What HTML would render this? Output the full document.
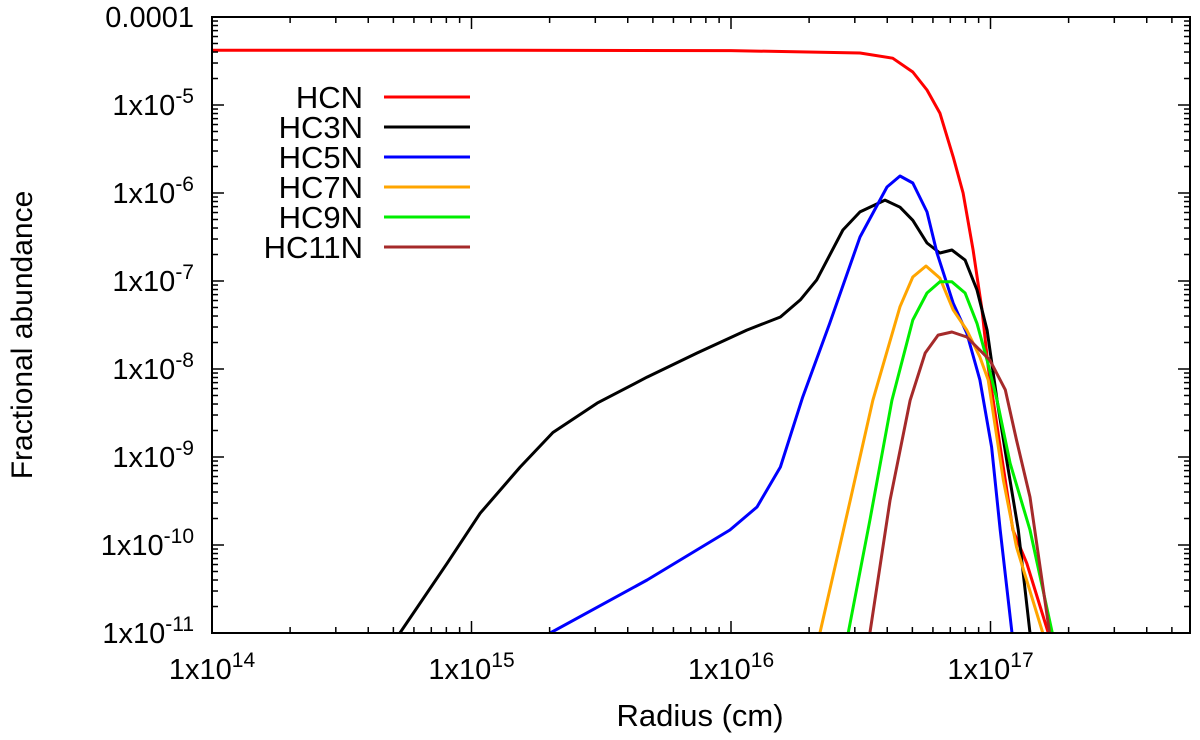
<!DOCTYPE html>
<html><head><meta charset="utf-8"><style>
body{margin:0;background:#fff;}
svg{display:block;font-family:"Liberation Sans",Arial,sans-serif;}
</style></head><body>
<svg id="chart" width="1200" height="740" viewBox="0 0 1200 740" xmlns="http://www.w3.org/2000/svg">
<defs><clipPath id="plotclip"><rect x="212" y="17" width="978" height="616"/></clipPath></defs>
<g id="marks" clip-path="url(#plotclip)"></g>
<g id="axes"></g>
<text x="700" y="726" font-size="31" text-anchor="middle">Radius (cm)</text>
<text transform="translate(32,335) rotate(-90)" font-size="30" text-anchor="middle">Fractional abundance</text>
<g id="legend"></g>
</svg>
<script>
const seriesNames = ["HCN","HC3N","HC5N","HC7N","HC9N","HC11N"];
const seriesColors = ["#ff0000","#000000","#0000ff","#ffa500","#00ee00","#a52a2a"];
const xTickExps = [14,15,16,17];
const yTickExps = [-4,-5,-6,-7,-8,-9,-10,-11];

const hcnX = [1e14,1e15,1e16,3.14e16,4.2e16,5.02e16,5.69e16,6.38e16,7.18e16,7.84e16,8.57e16,9.27e16,9.8e16,1.09e17,1.22e17,1.38e17,1.67e17];
const hcnY = [4.2e-5,4.2e-5,4.15e-5,3.9e-5,3.4e-5,2.37e-5,1.48e-5,8.1e-6,2.57e-6,1e-6,2.25e-7,4.7e-8,1.05e-8,1.3e-9,1.48e-10,6.2e-11,1e-11];

const hc3nX = [5.3e14,8.05e14,1.08e15,1.54e15,2.06e15,3.05e15,4.75e15,7.4e15,1.15e16,1.55e16,1.85e16,2.14e16,2.7e16,3.14e16,3.92e16,4.48e16,5.02e16,5.69e16,6.38e16,7.1e16,7.98e16,8.87e16,9.7e16,1.06e17,1.16e17,1.28e17,1.42e17];
const hc3nY = [1e-11,6.2e-11,2.3e-10,7.7e-10,1.9e-9,4.1e-9,8.1e-9,1.52e-8,2.77e-8,3.9e-8,6.1e-8,1.03e-7,3.8e-7,6.1e-7,8.3e-7,6.9e-7,4.9e-7,2.7e-7,2.08e-7,2.25e-7,1.73e-7,7.9e-8,2.77e-8,4.4e-9,8.5e-10,1.48e-10,1e-11];

const hc5nX = [2.01e15,4.75e15,9.9e15,1.26e16,1.55e16,1.89e16,2.4e16,3.14e16,3.99e16,4.48e16,5.02e16,5.69e16,6.22e16,7.18e16,8.1e16,9.1e16,1.01e17,1.09e17,1.21e17];
const hc5nY = [1e-11,4.0e-11,1.48e-10,2.7e-10,7.7e-10,4.8e-9,3.3e-8,3.16e-7,1.17e-6,1.56e-6,1.3e-6,6.1e-7,2.08e-7,5.6e-8,2.56e-8,7.5e-9,1.3e-9,1.48e-10,1e-11];

const hc7nX = [2.2e16,2.88e16,3.52e16,4.48e16,5.02e16,5.64e16,6.38e16,7.18e16,8.1e16,9.1e16,9.8e16,1.12e17,1.26e17,1.59e17];
const hc7nY = [1e-11,3.2e-10,4.4e-9,5.1e-8,1.11e-7,1.48e-7,1.08e-7,4.7e-8,2.77e-8,1.37e-8,7.5e-9,5.5e-10,9.5e-11,1e-11];

const hc9nX = [2.83e16,3.43e16,4.17e16,5.02e16,5.69e16,6.38e16,7.1e16,7.98e16,8.87e16,9.7e16,1.06e17,1.19e17,1.42e17,1.73e17];
const hc9nY = [1e-11,1.92e-10,4.4e-9,3.6e-8,7.3e-8,9.8e-8,9.8e-8,7.3e-8,3.3e-8,1.26e-8,4.4e-9,8.5e-10,1.48e-10,1e-11];

const hc11nX = [3.43e16,4.1e16,4.9e16,5.6e16,6.28e16,7.1e16,8.1e16,9.95e16,1.14e17,1.26e17,1.42e17,1.69e17];
const hc11nY = [1e-11,3.2e-10,4.4e-9,1.52e-8,2.43e-8,2.63e-8,2.31e-8,1.26e-8,5.8e-9,1.56e-9,3.5e-10,1e-11];

const NS = "http://www.w3.org/2000/svg";
const X0 = 212, X1 = 1190, Y0 = 17, Y1 = 633;
const DX = 259.5, DY = 88;
function xScale(v){ return X0 + (Math.log10(v) - 14) * DX; }
function yScale(v){ return Y0 + (-4 - Math.log10(v)) * DY; }
function mk(tag, attrs, parent){ const e = document.createElementNS(NS, tag); for (const k in attrs) e.setAttribute(k, attrs[k]); parent.appendChild(e); return e; }

const marks = document.getElementById("marks");
const allX = [hcnX,hc3nX,hc5nX,hc7nX,hc9nX,hc11nX];
const allY = [hcnY,hc3nY,hc5nY,hc7nY,hc9nY,hc11nY];
for (let s = 0; s < allX.length; s++) {
  const pts = allX[s].map((v,i) => xScale(v).toFixed(1) + "," + yScale(allY[s][i]).toFixed(1)).join(" ");
  const pl = mk("polyline", {points: pts, fill: "none", stroke: seriesColors[s], "stroke-width": 3, "stroke-linejoin": "round"}, marks);
  
  
}

const axes = document.getElementById("axes");
const frame = mk("rect", {x: X0, y: Y0, width: X1 - X0, height: Y1 - Y0, fill: "none", stroke: "#000", "stroke-width": 2}, axes);


const tickStyle = {stroke: "#000", "stroke-width": 1.5};
for (let d = 14; d <= 17; d++) {
  for (let m = 1; m <= 9; m++) {
    const x = xScale(m * Math.pow(10, d));
    if (x > X1 + 0.5) break;
    const len = m === 1 ? 12 : 6;
    mk("line", Object.assign({x1: x, y1: Y1, x2: x, y2: Y1 - len}, tickStyle), axes);
    mk("line", Object.assign({x1: x, y1: Y0, x2: x, y2: Y0 + len}, tickStyle), axes);
  }
}
for (let d = -11; d <= -4; d++) {
  for (let m = 1; m <= 9; m++) {
    const y = yScale(m * Math.pow(10, d));
    if (y < Y0 - 0.5) break;
    const len = m === 1 ? 12 : 6;
    mk("line", Object.assign({x1: X0, y1: y, x2: X0 + len, y2: y}, tickStyle), axes);
    mk("line", Object.assign({x1: X1, y1: y, x2: X1 - len, y2: y}, tickStyle), axes);
  }
}
xTickExps.forEach(e => {
  const t = mk("text", {x: xScale(Math.pow(10, e)), y: 679, "font-size": 29, "text-anchor": "middle"}, axes);
  
  
  t.appendChild(document.createTextNode("1x10"));
  const sp = mk("tspan", {"font-size": 21, dy: -12}, t);
  sp.textContent = String(e);
});
yTickExps.forEach(e => {
  const y = yScale(Math.pow(10, e)) + 10;
  const t = mk("text", {x: 194, y: y, "font-size": 29, "text-anchor": "end"}, axes);
  
  
  if (e === -4) { t.textContent = "0.0001"; }
  else {
    t.appendChild(document.createTextNode("1x10"));
    const sp = mk("tspan", {"font-size": 21, dy: -12}, t);
    sp.textContent = String(e);
  }
});

const legend = document.getElementById("legend");
seriesNames.forEach((n, i) => {
  const y = 97 + i * 30;
  const g = mk("g", {}, legend);
  
  
  const t = mk("text", {x: 363, y: y + 11, "font-size": 31, "text-anchor": "end"}, g);
  t.textContent = n;
  mk("line", {x1: 384, y1: y, x2: 470, y2: y, stroke: seriesColors[i], "stroke-width": 3}, g);
});
</script>
</body></html>
